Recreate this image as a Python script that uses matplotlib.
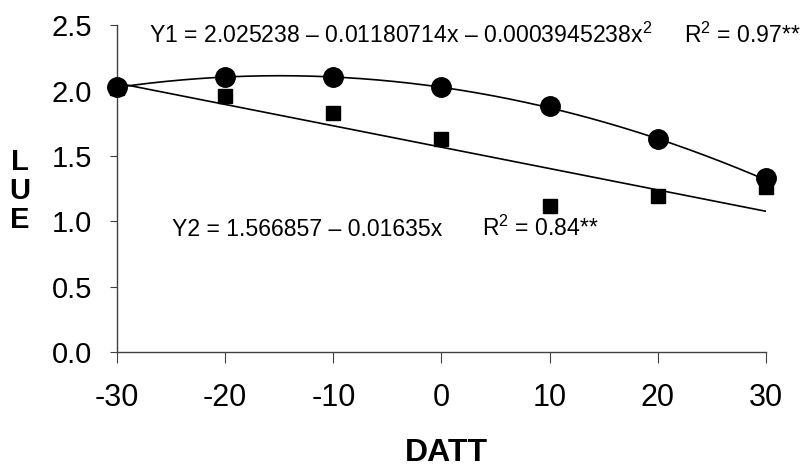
import numpy as np
import matplotlib
matplotlib.use('Agg')
import matplotlib.pyplot as plt

plt.rcParams['font.family'] = ['Liberation Sans', 'DejaVu Sans']
plt.rcParams['mathtext.fontset'] = 'custom'
plt.rcParams['mathtext.rm'] = 'Liberation Sans'
plt.rcParams['mathtext.it'] = 'Liberation Sans'
plt.rcParams['axes.unicode_minus'] = False

# Data
datt = [-30, -20, -10, 0, 10, 20, 30]
lue_y1 = [2.03, 2.10, 2.10, 2.03, 1.88, 1.63, 1.33]   # circles
lue_y2 = [2.02, 1.96, 1.83, 1.63, 1.12, 1.19, 1.26]   # squares

# Trend line coefficients as printed on the chart (c0, c1, c2)
coef_y1 = [2.025238, -0.01180714, -0.0003945238]
coef_y2 = [1.566857, -0.01635, 0.0]

x_ticks = [-30, -20, -10, 0, 10, 20, 30]
y_ticks = [0.0, 0.5, 1.0, 1.5, 2.0, 2.5]

fig = plt.figure(figsize=(8.03, 4.67), dpi=100)
ax = fig.add_axes([0.1457, 0.2463, 0.8082, 0.6997])

# Trend lines
xs = np.linspace(datt[0], datt[-1], 200)
for c in (coef_y1, coef_y2):
    ax.plot(xs, c[0] + c[1] * xs + c[2] * xs ** 2, color='black', lw=1.2)

# Data points
ax.plot(datt, lue_y2, linestyle='none', marker='s', markersize=10.5,
        color='black', clip_on=False, zorder=3)
ax.plot(datt, lue_y1, linestyle='none', marker='o', markersize=14,
        color='black', clip_on=False, zorder=4)

ax.set_xlim(-30, 30)
ax.set_ylim(0, 2.5)
ax.set_xticks(x_ticks)
ax.set_yticks(y_ticks)
ax.set_yticklabels([f'{v:.1f}' for v in y_ticks])
ax.spines['top'].set_visible(False)
ax.spines['right'].set_visible(False)
for s in ('left', 'bottom'):
    ax.spines[s].set_color('#404040')
    ax.spines[s].set_linewidth(1.0)
ax.tick_params(axis='y', direction='out', length=5, width=0.8, color='#404040',
               labelsize=21, pad=13)
ax.tick_params(axis='x', direction='out', length=8, width=0.8, color='#404040',
               labelsize=22, pad=14)

# Axis titles
W, H = 803, 467
for letter, ypx in zip('LUE', [162, 191, 220]):
    fig.text(20 / W, 1 - ypx / H, letter, fontsize=21, fontweight='bold',
             ha='center', va='center')
fig.text(446 / W, 1 - 453 / H, 'DATT', fontsize=23, fontweight='bold',
         ha='center', va='center')

# Equations
fig.text(149 / W, 1 - 43 / H,
         'Y1 = 2.025238 \u2013 0.01180714x \u2013 0.0003945238x$^{2}$',
         fontsize=16.6, ha='left', va='baseline')
fig.text(684 / W, 1 - 43 / H, 'R$^{2}$ = 0.97**',
         fontsize=16.6, ha='left', va='baseline')
fig.text(172 / W, 1 - 236 / H, 'Y2 = 1.566857 \u2013 0.01635x',
         fontsize=16.6, ha='left', va='baseline')
fig.text(482 / W, 1 - 236 / H, 'R$^{2}$ = 0.84**',
         fontsize=16.6, ha='left', va='baseline')

fig.savefig('out.png', dpi=100)
